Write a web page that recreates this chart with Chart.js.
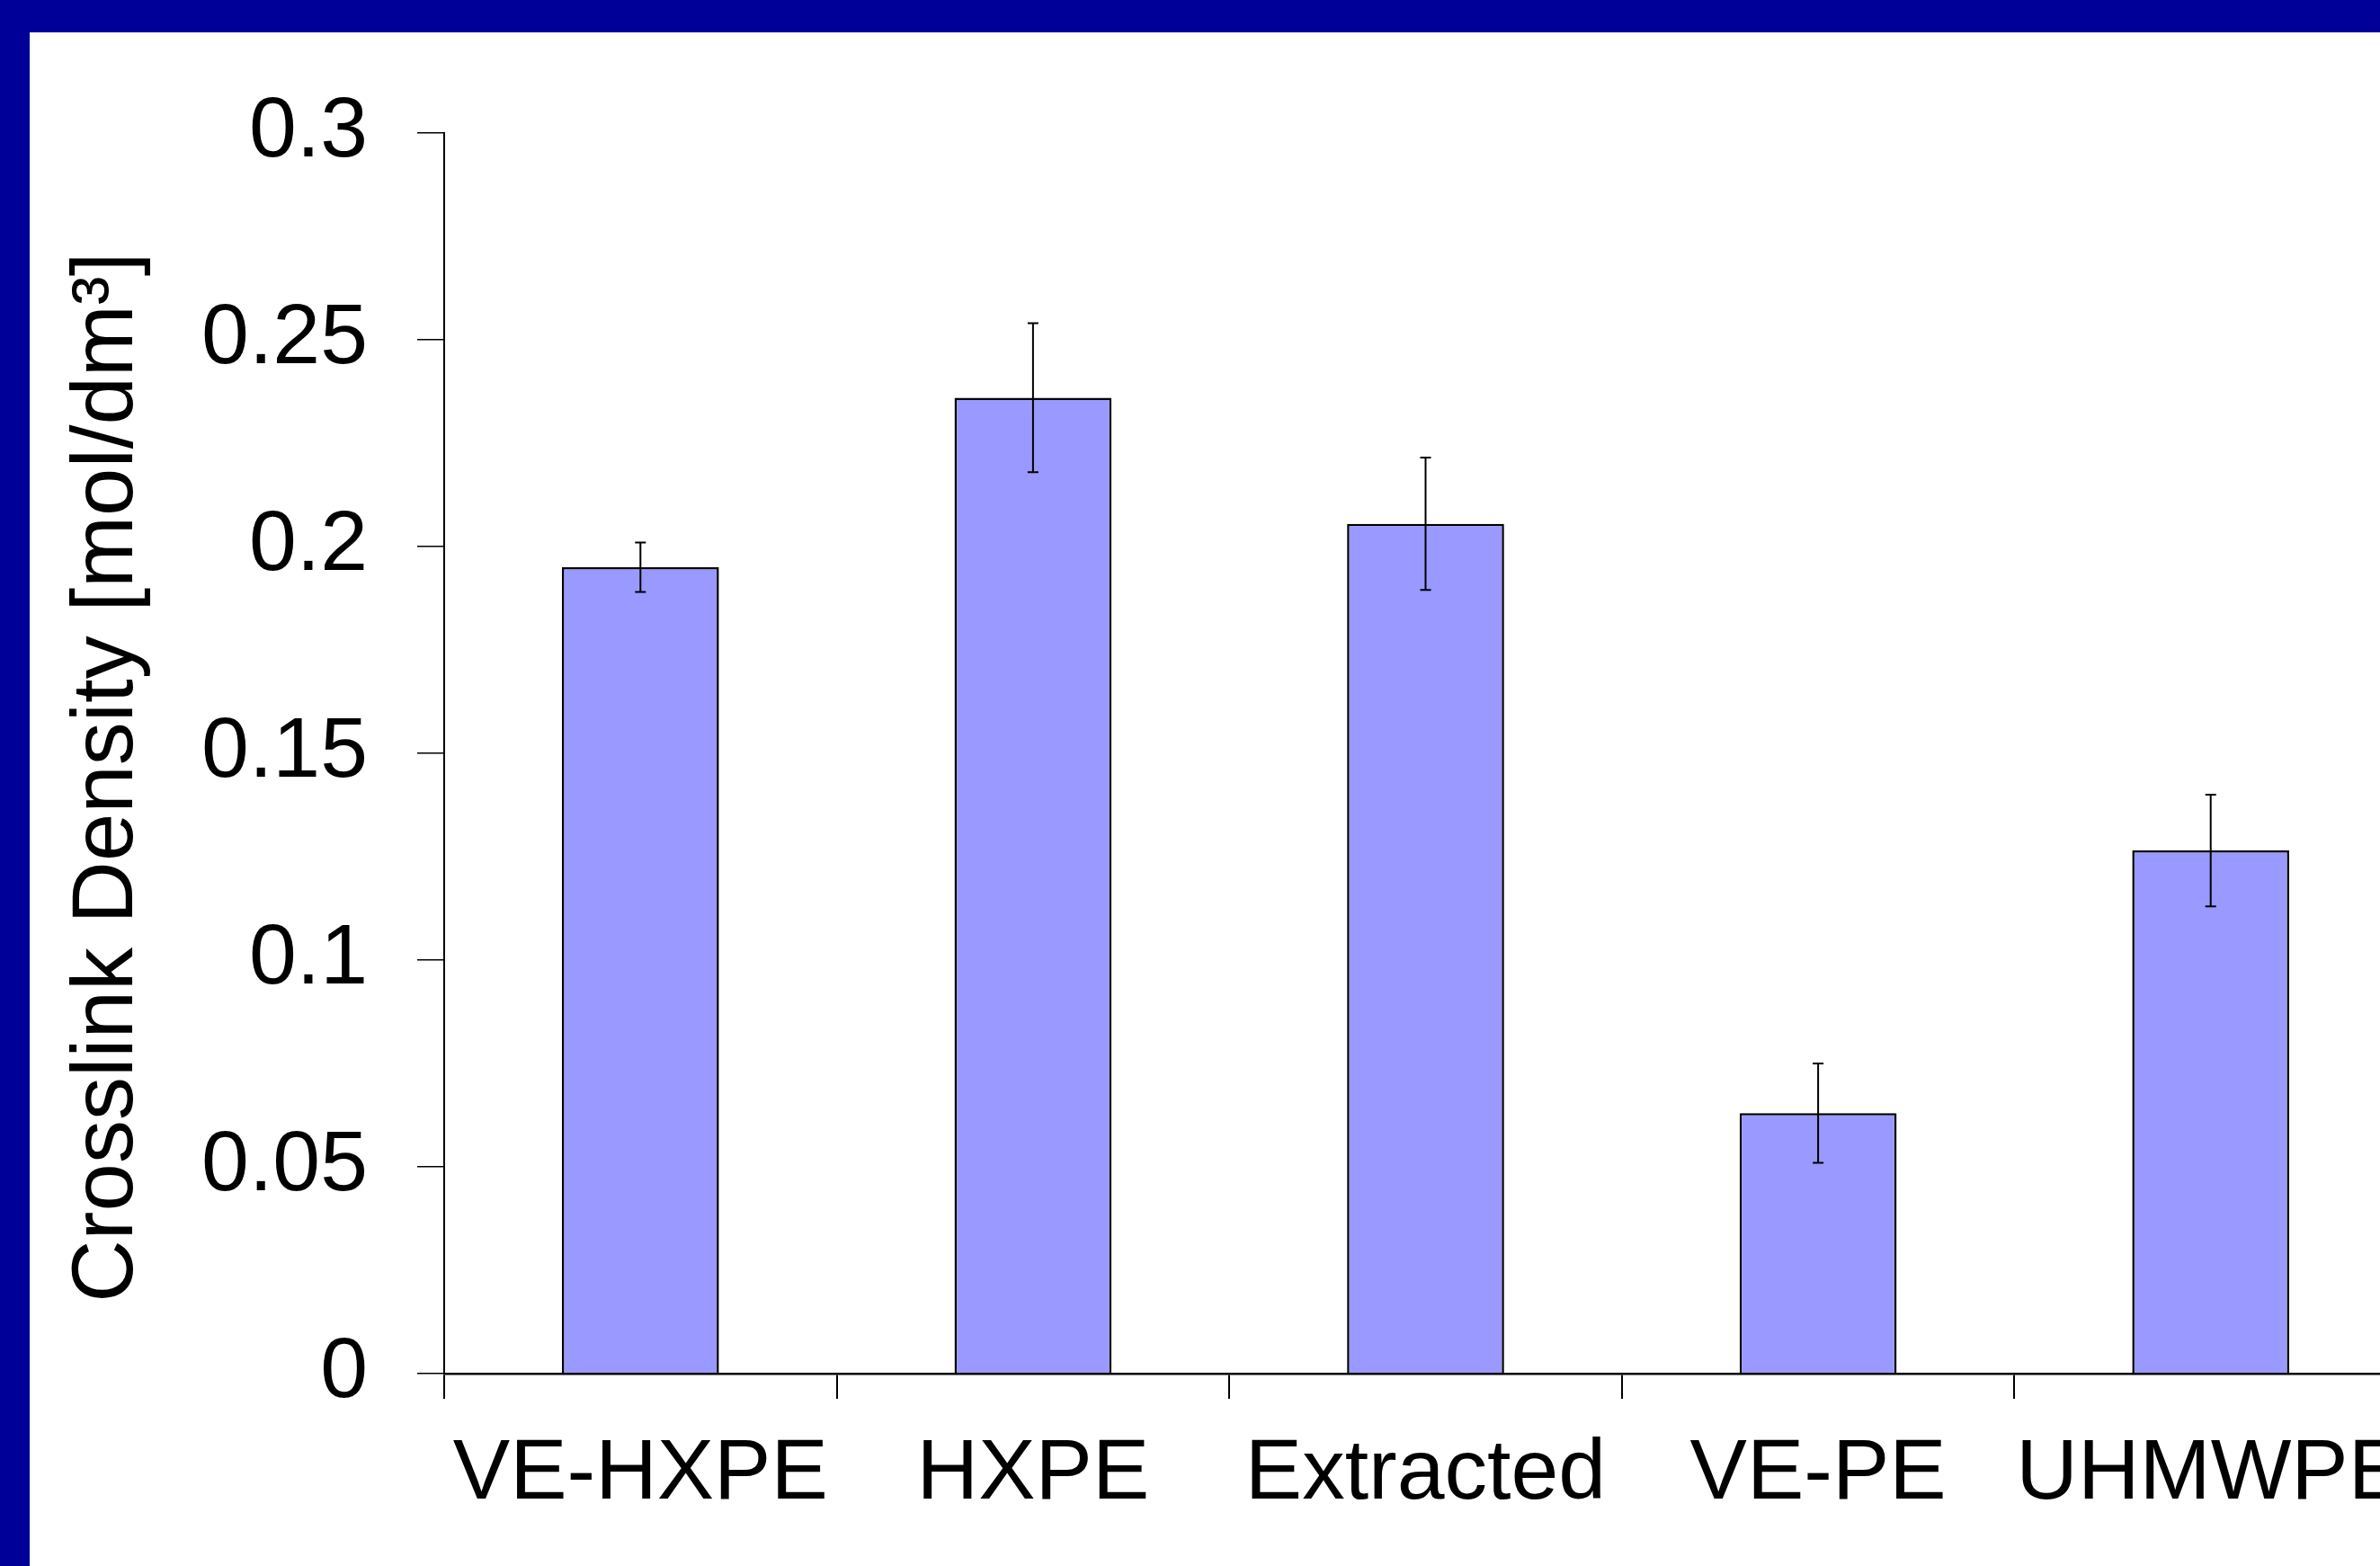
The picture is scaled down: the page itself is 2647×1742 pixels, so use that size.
<!DOCTYPE html>
<html>
<head>
<meta charset="utf-8">
<script src="https://cdn.jsdelivr.net/npm/chart.js@4.4.1/dist/chart.umd.min.js"></script>
<style>
  html, body { margin: 0; padding: 0; overflow: hidden; }
  body { background: #000099; width: 2647px; height: 1742px; }
  #frame { position: absolute; left: 33px; top: 36px; width: 2614px; height: 1706px; background: #fff; overflow: hidden; }
  #chart { position: absolute; left: 0; top: 0; }
</style>
</head>
<body>
<div id="frame"><canvas id="chart" width="2700" height="1706"></canvas></div>
<script>
// values
const categories = ['VE-HXPE', 'HXPE', 'Extracted', 'VE-PE', 'UHMWPE'];
const crosslinkDensity = [0.195, 0.236, 0.2055, 0.063, 0.1265];
const errorValues = [0.006, 0.018, 0.016, 0.012, 0.0135];
const yTicks = [0, 0.05, 0.1, 0.15, 0.2, 0.25, 0.3];

const fontFamily = "'Liberation Sans', Arial, sans-serif";

// error bars with small caps, drawn on top of the bars
const errorBars = {
  id: 'errorBars',
  afterDatasetsDraw(chart) {
    const ctx = chart.ctx;
    const y = chart.scales.y;
    const bars = chart.getDatasetMeta(0).data;
    ctx.save();
    ctx.strokeStyle = '#000';
    ctx.lineWidth = 2;
    bars.forEach((bar, i) => {
      const top = y.getPixelForValue(crosslinkDensity[i] + errorValues[i]);
      const bot = y.getPixelForValue(crosslinkDensity[i] - errorValues[i]);
      ctx.beginPath();
      ctx.moveTo(bar.x, top);
      ctx.lineTo(bar.x, bot);
      ctx.moveTo(bar.x - 6, top);
      ctx.lineTo(bar.x + 6, top);
      ctx.moveTo(bar.x - 6, bot);
      ctx.lineTo(bar.x + 6, bot);
      ctx.stroke();
    });
    ctx.restore();
  }
};

const ctx = document.getElementById('chart').getContext('2d');
const chart = new Chart(ctx, {
  type: 'bar',
  data: {
    labels: categories,
    datasets: [{
      data: crosslinkDensity,
      backgroundColor: '#9999ff',
      borderColor: '#000',
      borderWidth: 2.5,
      barPercentage: 0.4,
      categoryPercentage: 1.0
    }]
  },
  options: {
    responsive: false,
    animation: false,
    devicePixelRatio: 1,
    layout: { padding: { top: 109, left: 0, right: 56, bottom: 0 } },
    plugins: {
      legend: { display: false },
      tooltip: { enabled: false }
    },
    scales: {
      x: {
        grid: { drawOnChartArea: false, drawTicks: true, tickLength: 28, color: '#000', lineWidth: 2 },
        border: { display: true, color: '#000', width: 2.5 },
        ticks: {
          color: '#000',
          padding: 28,
          maxRotation: 0,
          autoSkip: false,
          font: { family: fontFamily, size: 95 }
        },
        afterFit(scale) { scale.height = 214; }
      },
      y: {
        min: 0,
        max: 0.3,
        grid: { drawOnChartArea: false, drawTicks: true, tickLength: 30, color: '#000', lineWidth: 1.5 },
        border: { display: true, color: '#000', width: 2 },
        afterBuildTicks(scale) {
          scale.ticks = yTicks.map(v => ({ value: v }));
        },
        ticks: {
          color: '#000',
          padding: 55,
          callback: v => String(v),
          font: { family: fontFamily, size: 95 }
        },
        title: {
          display: true,
          text: 'Crosslink Density [mol/dm³]  ',
          color: '#000',
          padding: { top: 30, bottom: 0 },
          font: { family: fontFamily, size: 96 }
        },
        afterFit(scale) { scale.width = 461; }
      }
    }
  },
  plugins: [errorBars]
});
</script>
</body>
</html>
